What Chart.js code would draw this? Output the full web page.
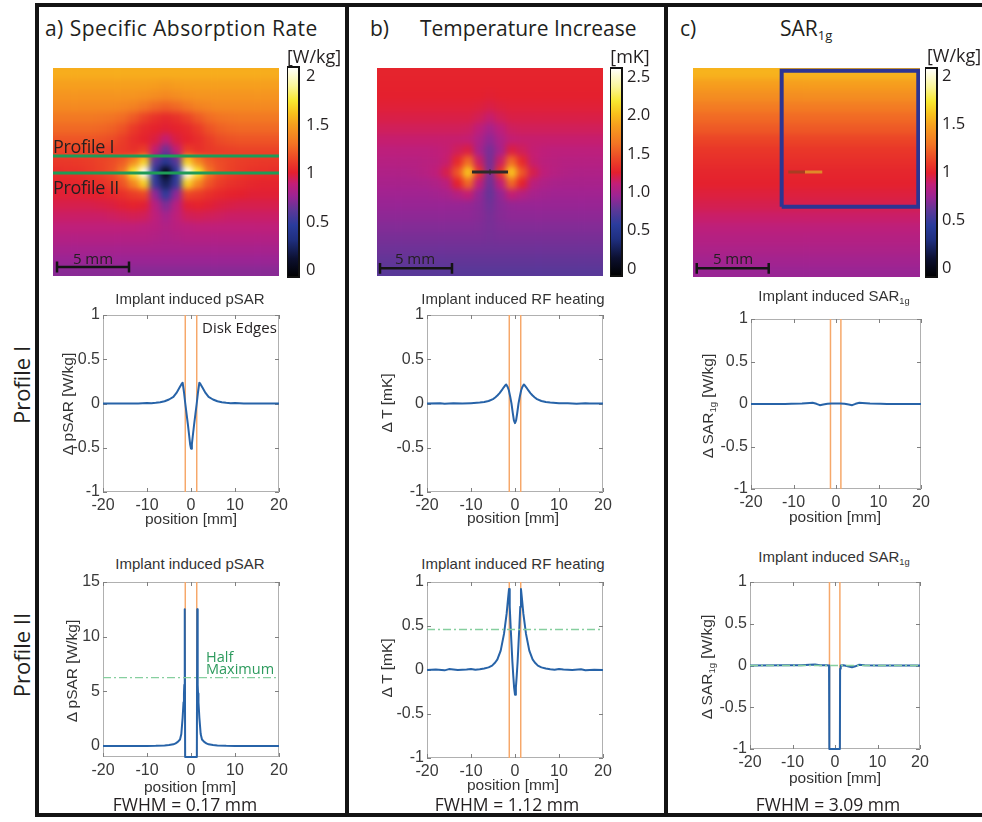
<!DOCTYPE html>
<html><head><meta charset="utf-8">
<script src="https://cdn.jsdelivr.net/npm/chart.js@4.4.1/dist/chart.umd.min.js"></script>
<style>
html,body{margin:0;padding:0;background:#fff;}
#fig{position:relative;width:982px;height:822px;overflow:hidden;background:#fff;}
#fig canvas{position:absolute;}
.t{position:absolute;white-space:nowrap;line-height:1;}
.ln{position:absolute;background:#141414;}
</style></head>
<body><div id="fig"></div>
<script>
// ---------------- DATA ----------------
// heat maps (rows top->bottom, columns left->right), values in colorbar units
const heatA = [
[1.55,1.55,1.55,1.55,1.55,1.55,1.55,1.55,1.55,1.55,1.55,1.55,1.55,1.55,1.55,1.55,1.55,1.55,1.55,1.55,1.55],
[1.5,1.5,1.5,1.5,1.5,1.5,1.5,1.5,1.5,1.49,1.48,1.49,1.5,1.5,1.5,1.5,1.5,1.5,1.5,1.5,1.5],
[1.45,1.45,1.45,1.45,1.45,1.45,1.45,1.45,1.44,1.42,1.4,1.42,1.44,1.45,1.45,1.45,1.45,1.45,1.45,1.45,1.45],
[1.4,1.4,1.4,1.4,1.4,1.4,1.39,1.37,1.32,1.27,1.24,1.27,1.32,1.37,1.39,1.4,1.4,1.4,1.4,1.4,1.4],
[1.33,1.33,1.33,1.33,1.32,1.31,1.28,1.22,1.14,1.08,1.05,1.08,1.14,1.22,1.28,1.31,1.32,1.33,1.33,1.33,1.33],
[1.27,1.27,1.27,1.27,1.26,1.24,1.19,1.11,1.05,1.02,1.0,1.02,1.05,1.11,1.19,1.24,1.26,1.27,1.27,1.27,1.27],
[1.2,1.2,1.2,1.2,1.19,1.17,1.12,1.06,1.02,0.98,0.9,0.98,1.02,1.06,1.12,1.17,1.19,1.2,1.2,1.2,1.2],
[1.14,1.14,1.14,1.14,1.13,1.12,1.1,1.07,1.12,0.9,0.66,0.9,1.12,1.07,1.1,1.12,1.13,1.14,1.14,1.14,1.14],
[1.1,1.1,1.11,1.12,1.14,1.17,1.23,1.4,1.68,0.6,0.42,0.6,1.68,1.4,1.23,1.17,1.14,1.12,1.11,1.1,1.1],
[1.06,1.07,1.08,1.1,1.13,1.18,1.32,1.75,2.1,0.45,0.0,0.45,2.1,1.75,1.32,1.18,1.13,1.1,1.08,1.07,1.06],
[1.03,1.03,1.04,1.06,1.08,1.12,1.2,1.4,1.68,0.5,0.22,0.5,1.68,1.4,1.2,1.12,1.08,1.06,1.04,1.03,1.03],
[1.0,1.0,1.0,1.01,1.02,1.04,1.07,1.12,1.15,0.74,0.48,0.74,1.15,1.12,1.07,1.04,1.02,1.01,1.0,1.0,1.0],
[0.96,0.96,0.96,0.96,0.97,0.98,1.0,1.02,1.0,0.86,0.7,0.86,1.0,1.02,1.0,0.98,0.97,0.96,0.96,0.96,0.96],
[0.92,0.92,0.92,0.92,0.92,0.93,0.94,0.95,0.94,0.88,0.8,0.88,0.94,0.95,0.94,0.93,0.92,0.92,0.92,0.92,0.92],
[0.88,0.88,0.88,0.88,0.88,0.88,0.88,0.88,0.87,0.86,0.83,0.86,0.87,0.88,0.88,0.88,0.88,0.88,0.88,0.88,0.88],
[0.84,0.84,0.84,0.84,0.84,0.84,0.84,0.84,0.84,0.83,0.82,0.83,0.84,0.84,0.84,0.84,0.84,0.84,0.84,0.84,0.84],
[0.8,0.8,0.8,0.8,0.8,0.8,0.8,0.8,0.8,0.8,0.8,0.8,0.8,0.8,0.8,0.8,0.8,0.8,0.8,0.8,0.8],
[0.76,0.76,0.76,0.76,0.76,0.76,0.76,0.76,0.76,0.76,0.76,0.76,0.76,0.76,0.76,0.76,0.76,0.76,0.76,0.76,0.76],
[0.72,0.72,0.72,0.72,0.72,0.72,0.72,0.72,0.72,0.72,0.72,0.72,0.72,0.72,0.72,0.72,0.72,0.72,0.72,0.72,0.72]
];
const heatB = [
[1.28,1.28,1.28,1.28,1.28,1.28,1.28,1.28,1.28,1.28,1.28,1.28,1.28,1.28,1.28,1.28,1.28,1.28,1.28,1.28,1.28],
[1.27,1.27,1.27,1.27,1.27,1.27,1.27,1.27,1.27,1.27,1.27,1.27,1.27,1.27,1.27,1.27,1.27,1.27,1.27,1.27,1.27],
[1.26,1.26,1.26,1.26,1.26,1.26,1.26,1.26,1.26,1.26,1.25,1.26,1.26,1.26,1.26,1.26,1.26,1.26,1.26,1.26,1.26],
[1.24,1.24,1.24,1.24,1.24,1.24,1.24,1.24,1.24,1.23,1.21,1.23,1.24,1.24,1.24,1.24,1.24,1.24,1.24,1.24,1.24],
[1.21,1.21,1.21,1.21,1.21,1.21,1.21,1.21,1.21,1.18,1.13,1.18,1.21,1.21,1.21,1.21,1.21,1.21,1.21,1.21,1.21],
[1.17,1.17,1.17,1.17,1.17,1.17,1.17,1.17,1.16,1.1,1.0,1.1,1.16,1.17,1.17,1.17,1.17,1.17,1.17,1.17,1.17],
[1.13,1.13,1.13,1.13,1.13,1.13,1.13,1.13,1.12,1.03,0.92,1.03,1.12,1.13,1.13,1.13,1.13,1.13,1.13,1.13,1.13],
[1.09,1.09,1.09,1.09,1.09,1.1,1.12,1.17,1.22,1.0,0.85,1.0,1.22,1.17,1.12,1.1,1.09,1.09,1.09,1.09,1.09],
[1.06,1.06,1.06,1.06,1.07,1.08,1.13,1.3,1.6,1.15,0.84,1.15,1.6,1.3,1.13,1.08,1.07,1.06,1.06,1.06,1.06],
[1.03,1.03,1.03,1.04,1.06,1.1,1.2,1.5,2.05,1.35,0.86,1.35,2.05,1.5,1.2,1.1,1.06,1.04,1.03,1.03,1.03],
[1.0,1.0,1.0,1.0,1.01,1.03,1.08,1.27,1.58,1.1,0.82,1.1,1.58,1.27,1.08,1.03,1.01,1.0,1.0,1.0,1.0],
[0.97,0.97,0.97,0.97,0.97,0.98,1.0,1.06,1.12,0.93,0.8,0.93,1.12,1.06,1.0,0.98,0.97,0.97,0.97,0.97,0.97],
[0.94,0.94,0.94,0.94,0.94,0.94,0.94,0.94,0.93,0.9,0.83,0.9,0.93,0.94,0.94,0.94,0.94,0.94,0.94,0.94,0.94],
[0.91,0.91,0.91,0.91,0.91,0.91,0.91,0.91,0.91,0.89,0.85,0.89,0.91,0.91,0.91,0.91,0.91,0.91,0.91,0.91,0.91],
[0.88,0.88,0.88,0.88,0.88,0.88,0.88,0.88,0.88,0.87,0.85,0.87,0.88,0.88,0.88,0.88,0.88,0.88,0.88,0.88,0.88],
[0.85,0.85,0.85,0.85,0.85,0.85,0.85,0.85,0.85,0.85,0.84,0.85,0.85,0.85,0.85,0.85,0.85,0.85,0.85,0.85,0.85],
[0.82,0.82,0.82,0.82,0.82,0.82,0.82,0.82,0.82,0.82,0.82,0.82,0.82,0.82,0.82,0.82,0.82,0.82,0.82,0.82,0.82],
[0.79,0.79,0.79,0.79,0.79,0.79,0.79,0.79,0.79,0.79,0.79,0.79,0.79,0.79,0.79,0.79,0.79,0.79,0.79,0.79,0.79],
[0.76,0.76,0.76,0.76,0.76,0.76,0.76,0.76,0.76,0.76,0.76,0.76,0.76,0.76,0.76,0.76,0.76,0.76,0.76,0.76,0.76]
];
const heatC = [
[1.56,1.56,1.56,1.56,1.56,1.56],
[1.48,1.48,1.48,1.48,1.48,1.48],
[1.41,1.41,1.41,1.41,1.41,1.41],
[1.33,1.33,1.33,1.33,1.33,1.33],
[1.26,1.26,1.26,1.26,1.26,1.26],
[1.2,1.2,1.2,1.2,1.2,1.2],
[1.13,1.13,1.13,1.13,1.13,1.13],
[1.08,1.08,1.08,1.08,1.08,1.08],
[1.05,1.05,1.05,1.05,1.05,1.05],
[1.02,1.02,1.02,1.02,1.02,1.02],
[1.0,1.0,1.0,1.0,1.0,1.0],
[0.97,0.97,0.97,0.97,0.97,0.97],
[0.94,0.94,0.94,0.94,0.94,0.94],
[0.9,0.9,0.9,0.9,0.9,0.9],
[0.86,0.86,0.86,0.86,0.86,0.86],
[0.83,0.83,0.83,0.83,0.83,0.83],
[0.8,0.8,0.8,0.8,0.8,0.8],
[0.77,0.77,0.77,0.77,0.77,0.77],
[0.74,0.74,0.74,0.74,0.74,0.74]
];
// map extents in mm (x: left..right, y: bottom..top)
const extXA = [-7.78, 7.92], extYA = [-7.15, 7.29];
const extXB = [-7.85, 7.85], extYB = [-7.22, 7.22];
const extXC = [-7.78, 7.99], extYC = [-7.29, 7.22];
// colour-bar ranges and ticks
const cbRangeA = [-0.07, 2.1], cbTicksA = [0, 0.5, 1, 1.5, 2];
const cbRangeB = [-0.09, 2.62], cbTicksB = [0, 0.5, 1, 1.5, 2, 2.5];
const cbRangeC = [-0.09, 2.09], cbTicksC = [0, 0.5, 1, 1.5, 2];
// annotations on the maps (mm)
const profileYmm = [1.18, 0];
const diskHalfWidthB = [-1.25, 1.25];
const diskC = [-1.16, 0, 1.2];
const sar1gCube = {x: [-1.62, 7.87], y: [-2.41, 7.03]};
const scaleBarLenMM = 5;
const scaleBarStart = {A: [-7.5, -6.53], B: [-7.64, -6.69], C: [-7.52, -6.69]};

// line profiles
const xTicks = [-20, -10, 0, 10, 20];
const yTicksUnit = [-1, -0.5, 0, 0.5, 1];
const yTicksA2 = [0, 5, 10, 15];
const diskEdgesAB = [-1.3, 1.3];
const diskEdgesC = [-1.3, 1.15];
const halfMaxA2 = 6.25, halfMaxB2 = 0.46, halfMaxC2 = 0;

const posA1 = [-20,-15,-12,-11,-10,-9,-8,-7,-6,-5,-4,-3.3,-2.6,-2.2,-1.9,-1.6,-1.3,-1.0,-0.7,-0.4,-0.2,0,0.2,0.4,0.7,1.0,1.3,1.6,1.9,2.2,2.6,3.3,4,5,6,7,8,9,10,11,12,15,20];
const dpSAR_A1 = [0,0,0,0.003,0.006,0.004,0.008,0.014,0.025,0.045,0.075,0.12,0.18,0.215,0.235,0.13,0.0,-0.12,-0.24,-0.37,-0.46,-0.51,-0.46,-0.37,-0.24,-0.12,0.0,0.13,0.235,0.215,0.18,0.12,0.075,0.045,0.025,0.014,0.008,0.004,0.006,0.003,0,0,0];

const posB1 = [-20,-17,-16,-14,-12,-10,-8,-7,-6,-5,-4.5,-4,-3.5,-3,-2.6,-2.3,-2,-1.7,-1.4,-1.1,-0.8,-0.5,-0.25,0,0.25,0.5,0.8,1.1,1.4,1.7,2,2.3,2.6,3,3.5,4,4.5,5,6,7,8,10,12,14,16,17,20];
const dT_B1 = [0,0.003,-0.002,0.002,0,0.004,0.01,0.016,0.028,0.05,0.068,0.09,0.118,0.15,0.18,0.2,0.215,0.19,0.15,0.08,0.0,-0.11,-0.19,-0.222,-0.19,-0.11,0.0,0.08,0.15,0.19,0.215,0.2,0.18,0.15,0.118,0.09,0.068,0.05,0.028,0.016,0.01,0.003,0.002,-0.002,0.003,0,0];

const posC1 = [-20,-12,-10.5,-8,-6.2,-5.5,-4.6,-3.8,-3,-2,-1,0,1,2,3,3.8,4.6,5.5,6.2,8,10.5,12,20];
const dSAR1g_C1 = [0,0,0.004,0.006,0.012,0.014,0.002,-0.014,-0.006,0.003,0.005,0.006,0.005,0.003,-0.006,-0.014,0.002,0.014,0.012,0.006,0.004,0,0];

const posA2 = [-20,-15,-10,-8,-6,-5,-4,-3.5,-3,-2.5,-2.2,-1.9,-1.7,-1.6,-1.52,-1.42,-1.33,1.33,1.42,1.52,1.6,1.7,1.9,2.2,2.5,3,3.5,4,5,6,8,10,15,20];
const dpSAR_A2 = [0,0,0.01,0.02,0.05,0.09,0.16,0.25,0.38,0.6,1.1,2.6,4.0,4.8,5.6,12.5,-1,-1,12.5,5.6,4.8,4.0,2.6,1.1,0.6,0.38,0.25,0.16,0.09,0.05,0.02,0.01,0,0];

const posB2 = [-20,-18,-16,-15,-13,-11,-10,-9,-8,-7,-6,-5.2,-4.5,-4,-3.25,-2.5,-1.9,-1.6,-1.36,-1.2,-1.0,-0.8,-0.6,-0.4,-0.2,0,0.2,0.4,0.6,0.8,1.0,1.2,1.36,1.6,1.9,2.5,3.25,4,4.5,5.2,6,7,8,9,10,11,13,15,16,18,20];
const dT_B2 = [0,0.005,-0.004,0.01,0,0.005,0.012,0.004,0.008,0.018,0.03,0.05,0.085,0.12,0.22,0.41,0.64,0.8,0.92,0.72,0.5,0.3,0.1,-0.06,-0.2,-0.28,-0.2,-0.06,0.1,0.3,0.5,0.72,0.92,0.8,0.64,0.41,0.22,0.12,0.085,0.05,0.03,0.018,0.008,0.004,0.012,0.005,0,0.008,-0.003,0.004,0];

const posC2 = [-20,-12,-8,-6,-4.7,-3.5,-2,-1.4,-1.33,1.15,1.2,1.35,2,3,4,4.8,5.6,7,10,20];
const dSAR1g_C2 = [0,0.002,0.004,0.01,0.012,0.002,0.003,0,-1,-1,-0.04,0,0.002,-0.008,-0.02,-0.01,0.008,0.003,0,0];

// ---------------- STYLE / HELPERS ----------------
const fig = document.getElementById('fig');
const cmapStops = [[0,'#000000'],[0.087,'#0c1030'],[0.178,'#1f2f80'],[0.247,'#2a3c9c'],[0.315,'#5a3898'],[0.384,'#9c2494'],[0.443,'#c21e78'],[0.498,'#e4202e'],[0.543,'#ea3a28'],[0.635,'#f27424'],[0.726,'#f6a01e'],[0.781,'#f8c21c'],[0.84,'#f8e830'],[0.909,'#faf598'],[1,'#ffffff']];
const CM = cmapStops.map(([t,h]) => [t,[1,3,5].map(k => parseInt(h.slice(k,k+2),16))]);
function cmap(t){
  t = Math.max(0, Math.min(1, t));
  for (let k = 1; k < CM.length; k++) {
    if (t <= CM[k][0]) {
      const [t0,c0] = CM[k-1], [t1,c1] = CM[k], f = (t-t0)/(t1-t0);
      return 'rgb(' + c0.map((v,i) => Math.round(v + (c1[i]-v)*f)).join(',') + ')';
    }
  }
  return 'rgb(255,255,255)';
}
function mk(l, t, w, h){
  const c = document.createElement('canvas');
  c.width = w; c.height = h; c.style.left = l+'px'; c.style.top = t+'px';
  c.style.width = w+'px'; c.style.height = h+'px';
  fig.appendChild(c); return c;
}
function T(html, x, y, o){
  o = o || {};
  const d = document.createElement('div'); d.className = 't'; d.innerHTML = html;
  d.style.left = x+'px'; d.style.top = y+'px';
  d.style.fontSize = (o.s||16)+'px';
  d.style.fontFamily = o.f || "'Open Sans','Noto Sans',sans-serif";
  d.style.color = o.c || '#231f20';
  if (o.ls) d.style.letterSpacing = o.ls+'px';
  const ax = o.a==='l' ? '0' : (o.a==='r' ? '-100%' : '-50%');
  d.style.transform = 'translate('+ax+',-50%)' + (o.r ? ' rotate('+o.r+'deg)' : '');
  fig.appendChild(d);
}
function L(l,t,w,h,c){ const d=document.createElement('div'); d.className='ln'; Object.assign(d.style,{left:l+'px',top:t+'px',width:w+'px',height:h+'px'}); if(c) d.style.background=c; fig.appendChild(d); }
const SUB = s => '<span style="font-size:0.62em;position:relative;top:0.32em">'+s+'</span>';

// smoothing of the cell image (bilinear-like look of the original rendering)
const smoothPlugin = {
  id: 'smooth',
  afterDatasetDraw(chart, args, opts){
    if (args.index !== 0) return;
    const a = chart.chartArea, r = opts.radius || 3;
    const Lx = Math.round(a.left), Ty = Math.round(a.top), W = Math.round(a.right-a.left), H = Math.round(a.bottom-a.top);
    const p = Math.ceil(r*3), src = chart.canvas;
    const off = document.createElement('canvas'); off.width = W+2*p; off.height = H+2*p;
    const o = off.getContext('2d');
    o.drawImage(src, Lx, Ty, W, H, p, p, W, H);
    o.drawImage(src, Lx, Ty, W, 1, p, 0, W, p);
    o.drawImage(src, Lx, Ty+H-1, W, 1, p, p+H, W, p);
    o.drawImage(src, Lx, Ty, 1, H, 0, p, p, H);
    o.drawImage(src, Lx+W-1, Ty, 1, H, p+W, p, p, H);
    o.drawImage(src, Lx, Ty, 1, 1, 0, 0, p, p);
    o.drawImage(src, Lx+W-1, Ty, 1, 1, p+W, 0, p, p);
    o.drawImage(src, Lx, Ty+H-1, 1, 1, 0, p+H, p, p);
    o.drawImage(src, Lx+W-1, Ty+H-1, 1, 1, p+W, p+H, p, p);
    const ctx = chart.ctx;
    ctx.save(); ctx.setTransform(1,0,0,1,0,0);
    ctx.beginPath(); ctx.rect(Lx, Ty, W, H); ctx.clip();
    ctx.filter = 'blur('+r+'px)';
    ctx.drawImage(off, Lx-p, Ty-p);
    ctx.restore();
  }
};

function scaleBar(start){
  const [x0,y0] = start, x1 = x0 + scaleBarLenMM, h = 0.38;
  return {data:[{x:x0,y:y0+h},{x:x0,y:y0-h},{x:x0,y:y0},{x:x1,y:y0},{x:x1,y:y0+h},{x:x1,y:y0-h}], borderColor:'#141414', borderWidth:2.5};
}

function heatChart(box, grid, xr, yr, cb, overlays){
  const cv = mk(box.l, box.t, box.w, box.h);
  const nr = grid.length, nc = grid[0].length;
  const cw = (xr[1]-xr[0])/nc, rh = (yr[1]-yr[0])/nr;
  const centers = grid[0].map((_, i) => xr[0] + (i+0.5)*cw);
  const ds = grid.map((row, j) => ({
    type:'bar', order:1, grouped:false, barPercentage:1, categoryPercentage:1, borderWidth:0,
    data: row.map((v, i) => ({x: centers[i], y: [yr[1]-j*rh, yr[1]-(j+1)*rh]})),
    backgroundColor: c => cmap((row[c.dataIndex]-cb[0])/(cb[1]-cb[0]))
  }));
  overlays.forEach(o => ds.push(Object.assign({type:'line', order:0, pointRadius:0, fill:false, tension:0, borderCapStyle:'butt', borderJoinStyle:'miter', clip:6}, o)));
  new Chart(cv, {
    type:'bar', data:{datasets:ds},
    options:{responsive:false, animation:false, devicePixelRatio:1, events:[], layout:{padding:0},
      plugins:{legend:{display:false}, tooltip:{enabled:false}, smooth:{radius:3.2}},
      scales:{
        x:{type:'linear', min:xr[0], max:xr[1], display:false, offset:false, afterBuildTicks: s => { s.ticks = centers.map(v => ({value:v})); }},
        y:{type:'linear', min:yr[0], max:yr[1], display:false}
      }},
    plugins:[smoothPlugin]
  });
}

function colorBar(box, cb, ticks, fmt, pad){
  const cv = mk(box.l, box.t-12, box.w+42, box.h+24);
  new Chart(cv, {
    type:'bar',
    data:{datasets:[{data:[{x:0, y:[cb[0], cb[1]]}], barPercentage:1, categoryPercentage:1, borderWidth:0,
      backgroundColor: c => {
        const a = c.chart.chartArea; if (!a) return '#000';
        const g = c.chart.ctx.createLinearGradient(0, a.bottom, 0, a.top);
        cmapStops.forEach(([t,h]) => g.addColorStop(t,h)); return g;
      }}]},
    options:{responsive:false, animation:false, devicePixelRatio:1, events:[],
      layout:{padding:{top:12, bottom:12, left:0, right:0}},
      plugins:{legend:{display:false}, tooltip:{enabled:false}},
      scales:{
        x:{type:'linear', min:-0.5, max:0.5, display:false, offset:false, afterBuildTicks: s => { s.ticks = [{value:0}]; }},
        y:{type:'linear', position:'right', min:cb[0], max:cb[1], grid:{display:false, drawTicks:false}, border:{display:false},
           ticks:{padding:pad, color:'#231f20', font:{family:"'Open Sans'", size:16.5}, callback: v => fmt(v)},
           afterBuildTicks: s => { s.ticks = ticks.map(v => ({value:v})); },
           afterFit: s => { s.width = 42; s.paddingTop = 0; s.paddingBottom = 0; }}
      }},
    plugins:[{id:'cbframe', afterDraw(ch){ const a=ch.chartArea, x=ch.ctx; x.save(); x.strokeStyle='#111'; x.lineWidth=2; x.strokeRect(a.left, a.top, a.right-a.left, a.bottom-a.top); x.restore(); }}]
  });
}

const axesBox = {
  id:'axesBox',
  beforeDatasetsDraw(chart){
    const {ctx, chartArea:a, scales:{x, y}} = chart;
    ctx.save();
    ctx.lineWidth = 1; ctx.strokeStyle = '#b0b0b0';
    ctx.strokeRect(Math.round(a.left)+0.5, Math.round(a.top)+0.5, Math.round(a.right-a.left)-1, Math.round(a.bottom-a.top)-1);
    ctx.strokeStyle = '#808080'; ctx.beginPath();
    const k = 4;
    x.ticks.forEach(t => { const p = Math.round(x.getPixelForValue(t.value))+0.5; ctx.moveTo(p, a.bottom); ctx.lineTo(p, a.bottom-k); ctx.moveTo(p, a.top); ctx.lineTo(p, a.top+k); });
    y.ticks.forEach(t => { const p = Math.round(y.getPixelForValue(t.value))+0.5; ctx.moveTo(a.left, p); ctx.lineTo(a.left+k, p); ctx.moveTo(a.right, p); ctx.lineTo(a.right-k, p); });
    ctx.stroke(); ctx.restore();
  }
};

const BLUE = '#2763a8', ORANGE = '#f6a86a', GREEN = '#86cf9f';
const TICKFONT = {family:"'Liberation Sans', Arial, sans-serif", size:16};
function profilePlot(box, xs, ys, o){
  const cv = mk(box.l-50, box.t-10, box.w+70, box.h+40);
  const ds = [];
  o.edges.forEach(e => ds.push({data:[{x:e, y:o.yr[0]},{x:e, y:o.yr[1]}], borderColor:ORANGE, borderWidth:1.5, order:3}));
  ds.push({data: xs.map((v,i) => ({x:v, y:ys[i]})), borderColor:BLUE, borderWidth:2, order:1, clip:4});
  if (o.half !== null && o.half !== undefined) ds.push({data:[{x:xTicks[0], y:o.half},{x:xTicks[xTicks.length-1], y:o.half}], borderColor:GREEN, borderWidth:1.3, borderDash:[8,3,2,3], order:0});
  new Chart(cv, {
    type:'line',
    data:{datasets: ds.map(d => Object.assign({pointRadius:0, fill:false, tension:0, borderJoinStyle:'round'}, d))},
    options:{responsive:false, animation:false, devicePixelRatio:1, events:[],
      layout:{padding:{top:10, right:20, left:0, bottom:0}},
      plugins:{legend:{display:false}, tooltip:{enabled:false}},
      scales:{
        x:{type:'linear', min:xTicks[0], max:xTicks[xTicks.length-1], grid:{display:false, drawTicks:false}, border:{display:false},
           ticks:{padding:4, color:'#3a3a3a', font:TICKFONT, maxRotation:0, autoSkip:false, callback: v => String(v)},
           afterBuildTicks: s => { s.ticks = xTicks.map(v => ({value:v})); },
           afterFit: s => { s.height = 30; s.paddingLeft = 0; s.paddingRight = 0; }},
        y:{type:'linear', min:o.yr[0], max:o.yr[1], grid:{display:false, drawTicks:false}, border:{display:false},
           ticks:{padding:3, color:'#3a3a3a', font:TICKFONT, autoSkip:false, callback: v => String(v)},
           afterBuildTicks: s => { s.ticks = o.yt.map(v => ({value:v})); },
           afterFit: s => { s.width = 50; s.paddingTop = 0; s.paddingBottom = 0; }}
      }},
    plugins:[axesBox]
  });
}

// ---------------- FRAME ----------------
L(35, 3, 947, 4);
L(35, 3, 4, 814);
L(345, 3, 4, 814);
L(664, 3, 4, 814);
L(35, 813, 947, 3.5);

// ---------------- MAPS ----------------
const profileColor = '#1f9b57';
heatChart({l:53, t:68, w:226, h:208}, heatA, extXA, extYA, cbRangeA, [
  ...profileYmm.map(y => ({data:[{x:extXA[0], y},{x:extXA[1], y}], borderColor:profileColor, borderWidth:3})),
  scaleBar(scaleBarStart.A)
]);
heatChart({l:377, t:68, w:226, h:208}, heatB, extXB, extYB, cbRangeB, [
  {data: diskHalfWidthB.map(x => ({x, y:0})), borderColor:'#2e2a28', borderWidth:3.2},
  {data: diskHalfWidthB.map(x => ({x, y:0})), borderColor:'#e8b24a', borderWidth:1.2},
  {data: [{x:0, y:-0.2},{x:0, y:0.2}], borderColor:'#2e2a28', borderWidth:1},
  scaleBar(scaleBarStart.B)
]);
heatChart({l:693, t:68, w:227, h:209}, heatC, extXC, extYC, cbRangeC, [
  {data:[{x:sar1gCube.x[0],y:sar1gCube.y[0]},{x:sar1gCube.x[0],y:sar1gCube.y[1]},{x:sar1gCube.x[1],y:sar1gCube.y[1]},{x:sar1gCube.x[1],y:sar1gCube.y[0]},{x:sar1gCube.x[0],y:sar1gCube.y[0]}], borderColor:'#2d3592', borderWidth:4},
  {data:[{x:diskC[0],y:0},{x:diskC[1],y:0}], borderColor:'#a93c22', borderWidth:3},
  {data:[{x:diskC[1],y:0},{x:diskC[2],y:0}], borderColor:'#e08a2a', borderWidth:3},
  scaleBar(scaleBarStart.C)
]);

const fmtPlain = v => String(v);
const fmtOne = v => v === 0 ? '0' : v.toFixed(1);
colorBar({l:287, t:67, w:12, h:210}, cbRangeA, cbTicksA, fmtPlain, 7);
colorBar({l:610, t:68, w:12, h:208}, cbRangeB, cbTicksB, fmtOne, 5);
colorBar({l:925, t:68, w:12, h:209}, cbRangeC, cbTicksC, fmtPlain, 5);

// ---------------- PROFILES ----------------
profilePlot({l:103, t:315, w:176, h:177}, posA1, dpSAR_A1, {yr:[-1,1], yt:yTicksUnit, edges:diskEdgesAB});
profilePlot({l:427, t:315, w:176, h:177}, posB1, dT_B1, {yr:[-1,1], yt:yTicksUnit, edges:diskEdgesAB});
profilePlot({l:751, t:319, w:170, h:170}, posC1, dSAR1g_C1, {yr:[-1,1], yt:yTicksUnit, edges:diskEdgesC});
profilePlot({l:103, t:582, w:176, h:175}, posA2, dpSAR_A2, {yr:[-1,15], yt:yTicksA2, edges:diskEdgesAB, half:halfMaxA2});
profilePlot({l:427, t:582, w:176, h:176}, posB2, dT_B2, {yr:[-1,1], yt:yTicksUnit, edges:diskEdgesAB, half:halfMaxB2});
profilePlot({l:750, t:582, w:170, h:167}, posC2, dSAR1g_C2, {yr:[-1,1], yt:yTicksUnit, edges:diskEdgesC, half:halfMaxC2});

// ---------------- TEXT ----------------
T('a) Specific Absorption Rate', 45, 28, {s:21, a:'l', ls:0.45});
T('b)', 370, 28, {s:21, a:'l'});
T('Temperature Increase', 420, 28, {s:21, a:'l'});
T('c)', 680, 28, {s:21, a:'l'});
T('SAR'+SUB('1g'), 780, 28, {s:21, a:'l'});
T('[W/kg]', 314, 56, {s:18});
T('[mK]', 630, 56, {s:18});
T('[W/kg]', 954, 55, {s:18});
T('Profile I', 53, 146, {s:18, a:'l', ls:-0.3});
T('Profile II', 53, 186.5, {s:18, a:'l', ls:-0.3});
T('5 mm', 93, 258, {s:15});
T('5 mm', 415, 258, {s:15});
T('5 mm', 733, 258, {s:15});

T('Profile I', 21, 385, {s:22, r:-90});
T('Profile II', 21, 655, {s:22, r:-90});

const PF = "'Liberation Sans', Arial, sans-serif", PC = '#333333';
T('Implant induced pSAR', 190, 298, {s:15, f:PF, c:PC});
T('Implant induced RF heating', 513, 298, {s:15, f:PF, c:PC});
T('Implant induced SAR'+SUB('1g'), 834, 296, {s:15, f:PF, c:PC});
T('Implant induced pSAR', 190, 563, {s:15, f:PF, c:PC});
T('Implant induced RF heating', 513, 563, {s:15, f:PF, c:PC});
T('Implant induced SAR'+SUB('1g'), 834, 557, {s:15, f:PF, c:PC});

T('position [mm]', 191, 519, {s:15.5, f:PF, c:PC});
T('position [mm]', 513, 518, {s:15.5, f:PF, c:PC});
T('position [mm]', 835, 517, {s:15.5, f:PF, c:PC});
T('position [mm]', 190, 787, {s:15.5, f:PF, c:PC});
T('position [mm]', 513, 785, {s:15.5, f:PF, c:PC});
T('position [mm]', 835, 778, {s:15.5, f:PF, c:PC});

T('Δ pSAR [W/kg]', 68, 404, {s:15.5, f:PF, c:PC, r:-90});
T('Δ T [mK]', 387, 403, {s:15.5, f:PF, c:PC, r:-90});
T('Δ SAR'+SUB('1g')+' [W/kg]', 708, 406, {s:15.5, f:PF, c:PC, r:-90});
T('Δ pSAR [W/kg]', 72, 671, {s:15.5, f:PF, c:PC, r:-90});
T('Δ T [mK]', 387, 668, {s:15.5, f:PF, c:PC, r:-90});
T('Δ SAR'+SUB('1g')+' [W/kg]', 707, 667, {s:15.5, f:PF, c:PC, r:-90});

T('Disk Edges', 202, 327, {s:15, a:'l'});
T('Half', 206, 657, {s:14.5, a:'l', c:'#2e9b5e'});
T('Maximum', 206, 668.5, {s:14.5, a:'l', c:'#2e9b5e'});

T('FWHM = 0.17 mm', 185, 804.5, {s:17.5});
T('FWHM = 1.12 mm', 507, 804.5, {s:17.5});
T('FWHM = 3.09 mm', 828, 804.5, {s:17.5});
</script>
</body></html>
